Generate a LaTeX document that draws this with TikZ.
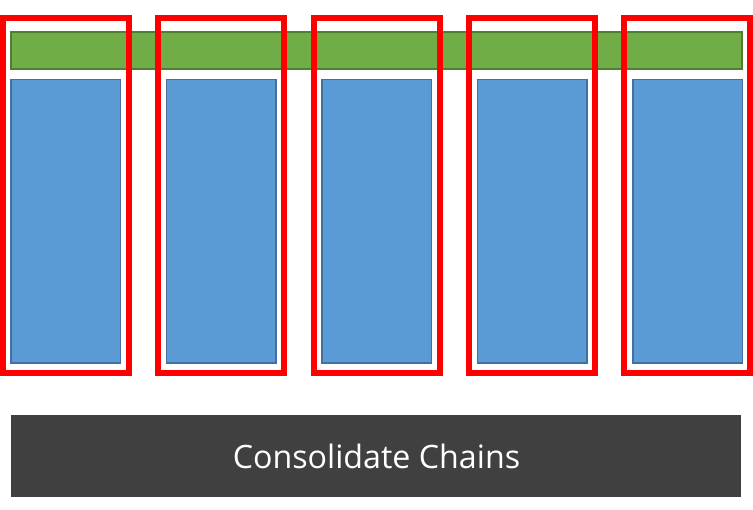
\documentclass[tikz,border=0pt]{standalone}
\usepackage{fontspec}
\setmainfont{Open Sans}
\definecolor{grfill}{HTML}{70AD47}
\definecolor{grline}{HTML}{507E32}
\definecolor{blfill}{HTML}{5B9BD5}
\definecolor{blline}{HTML}{41719C}
\definecolor{dkfill}{HTML}{404040}
\begin{document}
\begin{tikzpicture}[x=1pt,y=-1pt,
  greenbar/.style={fill=grfill,draw=grline,line width=1.2pt},
  bluebox/.style={fill=blfill,draw=blline,line width=1.2pt},
  redbox/.style={draw=red,line width=6pt},
  darkbox/.style={fill=dkfill,draw=none}]
\useasboundingbox (0,0) rectangle (753,510);
\path[greenbar] (11,32) rectangle (742,69) node[pos=0.5] (bar) {};
\foreach \i in {0,...,4}{
  \pgfmathsetmacro{\bx}{11+155.5*\i}
  \path[bluebox] (\bx,79.5) rectangle ({\bx+109.5},363) node[pos=0.5] (blue\i) {};
}
\foreach \i in {0,...,4}{
  \pgfmathsetmacro{\rx}{3+155.25*\i}
  \path[redbox] (\rx,18) rectangle ({\rx+126},373) node[pos=0.5] (red\i) {};
}
\path[darkbox] (11,415) rectangle (741,497);
\node[text=white,font=\fontsize{32.2}{38}\selectfont] (cc) at (376.5,456) {Consolidate Chains};
\end{tikzpicture}
\end{document}
